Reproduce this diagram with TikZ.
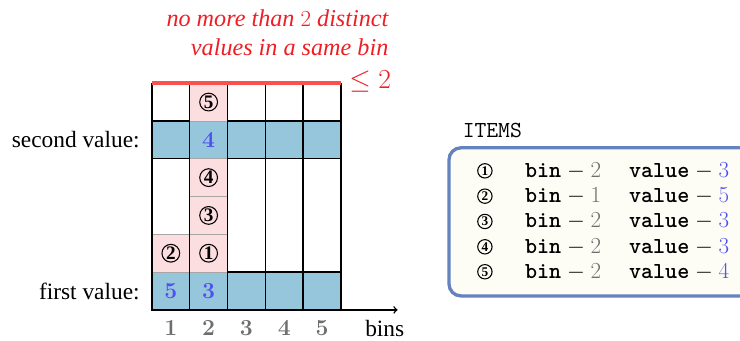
\documentclass[tikz,border=0pt]{standalone}
\usepackage{fontspec}
\setmainfont{Liberation Serif}
\usepackage{amsmath,amssymb}
\usetikzlibrary{arrows}

\definecolor{binblue}{RGB}{150,198,220}
\definecolor{binpink}{RGB}{253,222,224}
\definecolor{limred}{RGB}{250,80,80}
\definecolor{txtred}{RGB}{238,30,36}
\definecolor{valblue}{RGB}{80,80,240}
\definecolor{bingray}{RGB}{110,110,110}
\definecolor{boxblue}{RGB}{100,130,190}
\definecolor{boxfill}{RGB}{253,253,245}

\newcommand{\bigtxt}{\fontsize{17.6}{21}\selectfont}
\newcommand{\redtxt}{\fontsize{18.2}{22}\selectfont}

\begin{document}
\begin{tikzpicture}

\useasboundingbox (-4.02,-0.82) rectangle (15.56,8.20);

\tikzset{bluecell/.style = {draw,line width=1.1pt,fill=binblue,minimum size=1cm,inner sep=0pt,font=\LARGE,text=valblue}}
\tikzset{pinkcell/.style = {draw=gray!70,fill=binpink,minimum size=1cm,inner sep=0pt}}
\tikzset{num/.style = {shape=circle,draw,thick,inner sep=0pt,minimum size=0.47cm,font=\bfseries\Large}}
\tikzset{smallnum/.style = {shape=circle,draw,thick,inner sep=0pt,minimum size=0.38cm,font=\bfseries\normalsize}}
\tikzset{binlab/.style = {text=bingray,font=\LARGE}}
\tikzset{itemtxt/.style = {anchor=west,font=\LARGE}}
\tikzset{wall/.style = {line width=1.1pt}}

% first value row
\node[bluecell] (f1) at (0.5,0.5) {$\boldsymbol{5}$};
\node[bluecell] (f2) at (1.5,0.5) {$\boldsymbol{3}$};
\node[bluecell] (f3) at (2.5,0.5) {};
\node[bluecell] (f4) at (3.5,0.5) {};
\node[bluecell] (f5) at (4.5,0.5) {};

% second value row
\node[bluecell] (s1) at (0.5,4.5) {};
\node[bluecell] (s2) at (1.5,4.5) {$\boldsymbol{4}$};
\node[bluecell] (s3) at (2.5,4.5) {};
\node[bluecell] (s4) at (3.5,4.5) {};
\node[bluecell] (s5) at (4.5,4.5) {};

% items in the bins
\node[pinkcell] (c2) at (0.5,1.5) {};
\node[pinkcell] (c1) at (1.5,1.5) {};
\node[pinkcell] (c3) at (1.5,2.5) {};
\node[pinkcell] (c4) at (1.5,3.5) {};
\node[pinkcell] (c5) at (1.5,5.5) {};
\node[num] (n1) at (c1) {1};
\node[num] (n2) at (c2) {2};
\node[num] (n3) at (c3) {3};
\node[num] (n4) at (c4) {4};
\node[num] (n5) at (c5) {5};

% bin walls
\coordinate (b0) at (0,0);
\coordinate (b1) at (1,0);
\coordinate (b2) at (2,0);
\coordinate (b3) at (3,0);
\coordinate (b4) at (4,0);
\coordinate (b5) at (5,0);
\coordinate (t0) at (0,6);
\coordinate (t1) at (1,6);
\coordinate (t2) at (2,6);
\coordinate (t3) at (3,6);
\coordinate (t4) at (4,6);
\coordinate (t5) at (5,6);
\coordinate (xend) at (6.5,0);

\draw[wall] (b0) to (t0);
\draw[wall] (b1) to (t1);
\draw[wall] (b2) to (t2);
\draw[wall] (b3) to (t3);
\draw[wall] (b4) to (t4);
\draw[wall] (b5) to (t5);
\draw[wall,->] (b0) to (xend);
\draw[limred,line width=3pt] (t0) to (t5);

% labels
\node[binlab] (l1) at (0.5,-0.48) {$\boldsymbol{1}$};
\node[binlab] (l2) at (1.5,-0.48) {$\boldsymbol{2}$};
\node[binlab] (l3) at (2.5,-0.48) {$\boldsymbol{3}$};
\node[binlab] (l4) at (3.5,-0.48) {$\boldsymbol{4}$};
\node[binlab] (l5) at (4.5,-0.48) {$\boldsymbol{5}$};
\node[font=\bigtxt] (bins) at (6.16,-0.5) {bins};
\node[font=\bigtxt,anchor=east] (second) at (-0.2,4.5) {second value:};
\node[font=\bigtxt,anchor=east] (first) at (-0.2,0.5) {first value:};
\node[text=txtred,font=\huge,anchor=west] (le) at (5.1,6.05) {$\leq 2$};
\node[text=txtred,font=\redtxt\itshape,align=right,anchor=east] (note) at (6.38,7.34)
  {no more than $2$ distinct\\values in a same bin};

% items box
\node[font=\LARGE\ttfamily,anchor=west] (title) at (8.1,4.76) {ITEMS};
\node[draw=boxblue,line width=2.5pt,fill=boxfill,rounded corners=9pt,
  minimum width=8.8cm,minimum height=3.92cm] (box) at (12.26,2.33) {};

\node[smallnum] (i1) at (8.81,3.68) {1};
\node[smallnum] (i2) at (8.81,3.01) {2};
\node[smallnum] (i3) at (8.81,2.34) {3};
\node[smallnum] (i4) at (8.81,1.67) {4};
\node[smallnum] (i5) at (8.81,1.01) {5};

\node[itemtxt] (bin1) at (9.75,3.68) {\texttt{\textbf{bin}} $-$ \textcolor{bingray}{$2$}};
\node[itemtxt] (bin2) at (9.75,3.01) {\texttt{\textbf{bin}} $-$ \textcolor{bingray}{$1$}};
\node[itemtxt] (bin3) at (9.75,2.34) {\texttt{\textbf{bin}} $-$ \textcolor{bingray}{$2$}};
\node[itemtxt] (bin4) at (9.75,1.67) {\texttt{\textbf{bin}} $-$ \textcolor{bingray}{$2$}};
\node[itemtxt] (bin5) at (9.75,1.01) {\texttt{\textbf{bin}} $-$ \textcolor{bingray}{$2$}};

\node[itemtxt] (val1) at (12.5,3.68) {\texttt{\textbf{value}} $-$ \textcolor{valblue}{$3$}};
\node[itemtxt] (val2) at (12.5,3.01) {\texttt{\textbf{value}} $-$ \textcolor{valblue}{$5$}};
\node[itemtxt] (val3) at (12.5,2.34) {\texttt{\textbf{value}} $-$ \textcolor{valblue}{$3$}};
\node[itemtxt] (val4) at (12.5,1.67) {\texttt{\textbf{value}} $-$ \textcolor{valblue}{$3$}};
\node[itemtxt] (val5) at (12.5,1.01) {\texttt{\textbf{value}} $-$ \textcolor{valblue}{$4$}};

\end{tikzpicture}
\end{document}
